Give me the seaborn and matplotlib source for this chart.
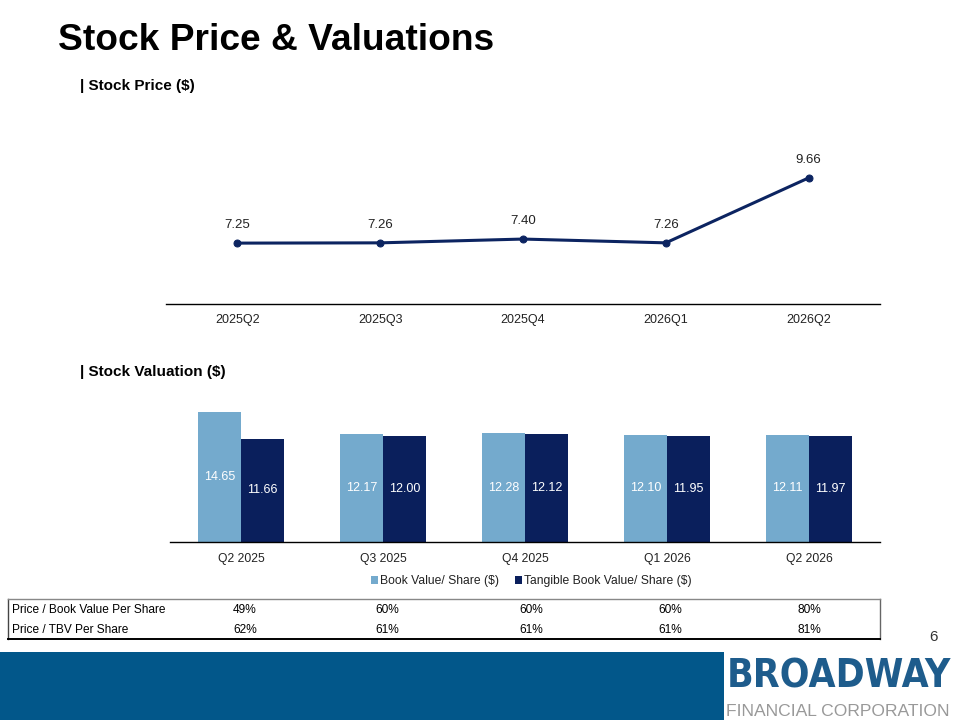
import matplotlib
matplotlib.use("Agg")
import matplotlib.pyplot as plt
import seaborn as sns
import pandas as pd
from matplotlib.patches import Rectangle, Patch

# ---------------- data ----------------
price_quarters = ["2025Q2", "2025Q3", "2025Q4", "2026Q1", "2026Q2"]
price_values = [7.25, 7.26, 7.40, 7.26, 9.66]

val_quarters = ["Q2 2025", "Q3 2025", "Q4 2025", "Q1 2026", "Q2 2026"]
book_value = [14.65, 12.17, 12.28, 12.10, 12.11]
tangible_book_value = [11.66, 12.00, 12.12, 11.95, 11.97]
series_names = ["Book Value/ Share ($)", "Tangible Book Value/ Share ($)"]

table_rows = ["Price / Book Value Per Share", "Price / TBV Per Share"]
price_to_book = ["49%", "60%", "60%", "60%", "80%"]
price_to_tbv = ["62%", "61%", "61%", "61%", "81%"]

# ---------------- style ----------------
sns.set_theme(style="white")
plt.rcParams["font.family"] = ["Liberation Sans", "DejaVu Sans"]

W, H = 960, 720
fig = plt.figure(figsize=(W / 100, H / 100), dpi=100)
fig.patch.set_facecolor("white")


def axrect(x0, y0, x1, y1):
    return [x0 / W, 1 - y1 / H, (x1 - x0) / W, (y1 - y0) / H]


NAVY = "#0C2461"
LIGHT = "#74AACD"
DARK = "#0A1F5C"
TXT = "#222222"

# title and headings
fig.text(58 / W, 1 - 40 / H, "Stock Price & Valuations", fontsize=26.7,
         fontweight="bold", color="black", va="center", ha="left")
fig.text(80 / W, 1 - 86 / H, "| Stock Price ($)", fontsize=11,
         fontweight="bold", color="black", va="center", ha="left")
fig.text(80 / W, 1 - 372 / H, "| Stock Valuation ($)", fontsize=11,
         fontweight="bold", color="black", va="center", ha="left")

# ---------------- line chart ----------------
ax1 = fig.add_axes(axrect(166, 120, 880, 304))
df_price = pd.DataFrame({"pos": list(range(len(price_quarters))),
                         "price": price_values})
sns.lineplot(data=df_price, x="pos", y="price", ax=ax1, color=NAVY,
             linewidth=2.2, marker="o", markersize=5,
             markeredgecolor=NAVY, markerfacecolor=NAVY)
ax1.set_xlim(-0.5, len(price_quarters) - 0.5)
ax1.set_ylim(5, 11.8)
ax1.set_xticks(range(len(price_quarters)))
ax1.set_xticklabels(price_quarters, fontsize=9, color=TXT)
ax1.tick_params(axis="x", length=0, pad=7)
ax1.set_yticks([])
ax1.set_xlabel("")
ax1.set_ylabel("")
for s in ["top", "left", "right"]:
    ax1.spines[s].set_visible(False)
ax1.spines["bottom"].set_color("black")
ax1.spines["bottom"].set_linewidth(1.0)
ax1.patch.set_alpha(0)
for i, v in enumerate(price_values):
    ax1.annotate(f"{v:.2f}", (i, v), xytext=(0, 8.5), textcoords="offset points",
                 ha="center", va="bottom", fontsize=9.5, color=TXT,
                 annotation_clip=False)

# ---------------- bar chart ----------------
ax2 = fig.add_axes(axrect(170, 400, 880, 542))
df_val = pd.DataFrame({
    "quarter": val_quarters * 2,
    "value": book_value + tangible_book_value,
    "series": [series_names[0]] * len(val_quarters) + [series_names[1]] * len(val_quarters),
})
sns.barplot(data=df_val, x="quarter", y="value", hue="series", ax=ax2,
            palette=[LIGHT, DARK], width=0.61, gap=0, saturation=1,
            edgecolor="none", legend=False)
ax2.set_xlim(-0.5, len(val_quarters) - 0.5)
ax2.set_ylim(0, 16)
ax2.set_yticks([])
ax2.set_xlabel("")
ax2.set_ylabel("")
ax2.tick_params(axis="x", length=0, pad=8, labelsize=8.7, labelcolor=TXT)
for s in ["top", "left", "right"]:
    ax2.spines[s].set_visible(False)
ax2.spines["bottom"].set_color("black")
ax2.spines["bottom"].set_linewidth(1.0)
ax2.patch.set_alpha(0)
for cont in ax2.containers:
    ax2.bar_label(cont, fmt="%.2f", label_type="center", color="white",
                  fontsize=9)

# legend
handles = [Patch(facecolor=LIGHT, edgecolor="none"),
           Patch(facecolor=DARK, edgecolor="none")]
fig.legend(handles, series_names, loc="center", ncol=2,
           bbox_to_anchor=(531 / W, 1 - 581 / H), frameon=False, fontsize=8.7,
           handlelength=0.6, handleheight=0.6, handletextpad=0.15,
           columnspacing=1.3, labelcolor=TXT)

# ---------------- table ----------------
axt = fig.add_axes(axrect(8, 599, 880, 639))
axt.set_xlim(8, 880)
axt.set_ylim(639, 599)
axt.set_xticks([])
axt.set_yticks([])
axt.patch.set_alpha(0)
axt.spines["top"].set_color("#888888")
axt.spines["right"].set_color("#666666")
axt.spines["left"].set_color("#444444")
axt.spines["bottom"].set_color("black")
axt.spines["bottom"].set_linewidth(1.4)
for s in ["top", "right", "left"]:
    axt.spines[s].set_linewidth(1.0)
col_x = [233, 375, 519, 658, 798]
row_y = [610, 630]
for r, (name, vals) in enumerate(zip(table_rows, [price_to_book, price_to_tbv])):
    axt.text(12, row_y[r], name, fontsize=8.6, color="black", va="center", ha="left")
    for cx, v in zip(col_x, vals):
        axt.text(cx, row_y[r], v, fontsize=8.6, color="black", va="center", ha="left")

# page number
fig.text(933 / W, 1 - 637 / H, "6", fontsize=11, color="#333333",
         ha="center", va="center")

# ---------------- footer ----------------
fig.patches.append(Rectangle((0, 0), 724 / W, 68 / H, transform=fig.transFigure,
                             facecolor="#02578A", edgecolor="none", zorder=0))
fig.text(727 / W, 1 - 676 / H, "BROADWAY", fontsize=28, fontweight="bold",
         color="#1E5C8C", ha="left", va="center",
         family=["Liberation Sans Narrow", "DejaVu Sans"], fontstretch="condensed")
fig.text(726 / W, 1 - 711 / H, "FINANCIAL CORPORATION", fontsize=12.6,
         color="#999999", ha="left", va="center", fontweight="light")

fig.savefig("out.png", dpi=100)
